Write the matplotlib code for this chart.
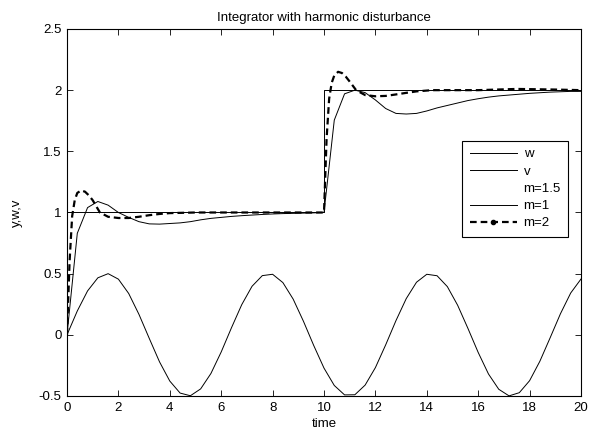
import matplotlib
matplotlib.use("Agg")
import matplotlib.pyplot as plt
from matplotlib.lines import Line2D
from matplotlib.ticker import FormatStrFormatter

plt.rcParams["font.family"] = ["Liberation Sans", "DejaVu Sans"]
plt.rcParams["font.size"] = 9.5

# time grid used for the disturbance and the m=1 response
t = [0.0, 0.4, 0.8, 1.2, 1.6, 2.0, 2.4, 2.8, 3.2, 3.6, 4.0, 4.4, 4.8, 5.2, 5.6,
     6.0, 6.4, 6.8, 7.2, 7.6, 8.0, 8.4, 8.8, 9.2, 9.6, 10.0, 10.4, 10.8, 11.2,
     11.6, 12.0, 12.4, 12.8, 13.2, 13.6, 14.0, 14.4, 14.8, 15.2, 15.6, 16.0,
     16.4, 16.8, 17.2, 17.6, 18.0, 18.4, 18.8, 19.2, 19.6, 20.0]

# harmonic disturbance v
v = [0.0, 0.195, 0.359, 0.466, 0.500, 0.455, 0.338, 0.167, -0.029, -0.221,
     -0.378, -0.476, -0.498, -0.442, -0.316, -0.140, 0.058, 0.247, 0.397,
     0.484, 0.495, 0.427, 0.292, 0.111, -0.087, -0.272, -0.414, -0.491,
     -0.490, -0.411, -0.268, -0.082, 0.116, 0.296, 0.430, 0.495, 0.483,
     0.394, 0.242, 0.053, -0.144, -0.320, -0.445, -0.499, -0.473, -0.375,
     -0.216, -0.024, 0.172, 0.342, 0.456]

# output for m=1
y_m1 = [0.0, 0.83, 1.04, 1.09, 1.06, 1.0, 0.96, 0.925, 0.907, 0.905, 0.91,
        0.915, 0.925, 0.94, 0.952, 0.96, 0.968, 0.974, 0.979, 0.984, 0.988,
        0.991, 0.993, 0.995, 0.997, 1.0, 1.755, 1.97, 2.0, 1.98, 1.92, 1.85,
        1.81, 1.805, 1.81, 1.83, 1.855, 1.875, 1.895, 1.915, 1.93, 1.943,
        1.953, 1.96, 1.967, 1.974, 1.979, 1.984, 1.987, 1.99, 1.99]

# reference w (step at t=10)
t_w = [0, 10, 10, 20]
w = [1, 1, 2, 2]

# output for m=2 (finer sampling around the transients)
t_m2 = [0.0, 0.1, 0.2, 0.3, 0.4, 0.55, 0.7, 0.85, 1.0, 1.28, 1.6, 2.0, 2.4,
        2.8, 3.2, 3.6, 4.0, 5.0, 7.0, 10.0, 10.1, 10.2, 10.3, 10.4, 10.55,
        10.7, 10.85, 11.0, 11.25, 11.6, 12.0, 12.4, 12.8, 13.2, 13.6, 14.2,
        16.0, 17.5, 19.0, 20.0]
y_m2 = [0.0, 0.6, 0.97, 1.10, 1.16, 1.18, 1.17, 1.14, 1.10, 1.0, 0.965,
        0.955, 0.955, 0.965, 0.978, 0.988, 0.995, 1.0, 1.0, 1.0, 1.6, 1.93,
        2.06, 2.12, 2.15, 2.14, 2.11, 2.07, 2.0, 1.96, 1.95, 1.953, 1.965,
        1.978, 1.99, 2.0, 2.0, 2.01, 2.005, 2.0]

fig = plt.figure(figsize=(6.01, 4.38), dpi=100)
ax = fig.add_axes([0.1115, 0.0959, 0.8552, 0.8379])

ax.plot(t_w, w, color="black", lw=0.7)
ax.plot(t, v, color="black", lw=0.7)
ax.plot(t, y_m1, color="black", lw=0.7)
ax.plot(t_m2, y_m2, color="black", lw=1.6, ls=(0, (3, 1.8)))

ax.set_xlim(0, 20)
ax.set_ylim(-0.5, 2.5)
ax.set_xticks(range(0, 21, 2))
ax.set_yticks([-0.5, 0, 0.5, 1, 1.5, 2, 2.5])
ax.yaxis.set_major_formatter(FormatStrFormatter("%g"))
ax.tick_params(direction="in", top=True, right=True, length=4, width=0.6,
               labelsize=9.5, pad=4)
for sp in ax.spines.values():
    sp.set_linewidth(0.8)

ax.set_title("Integrator with harmonic disturbance", fontsize=9.5, pad=6)
ax.set_xlabel("time", fontsize=9.5, labelpad=3)
ax.set_ylabel("y,w,v", fontsize=9.5, labelpad=11)

handles = [
    Line2D([], [], color="black", lw=0.7),
    Line2D([], [], color="black", lw=0.7),
    Line2D([], [], ls="none"),
    Line2D([], [], color="black", lw=0.7),
    Line2D([], [], color="black", lw=1.6, ls=(0, (3, 1.8)), marker=".",
           markersize=6),
]
labels = ["w", "v", "m=1.5", "m=1", "m=2"]
leg = ax.legend(handles, labels, loc="upper right",
                bbox_to_anchor=(0.975, 0.695), fontsize=9.5, frameon=True,
                fancybox=False, edgecolor="black", framealpha=1,
                handlelength=3.6, handletextpad=0.5, labelspacing=0.38,
                borderpad=0.55, borderaxespad=0, numpoints=1)
leg.get_frame().set_linewidth(0.8)

fig.savefig("out.png", dpi=100)
